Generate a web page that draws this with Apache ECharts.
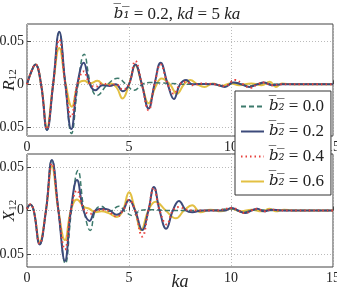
<!DOCTYPE html>
<html>
<head>
<meta charset="utf-8">
<script src="https://cdn.jsdelivr.net/npm/echarts@6/dist/echarts.min.js"></script>
<style>
  html, body { margin: 0; padding: 0; background: #fff; }
  #chart { width: 337px; height: 290px; }
</style>
</head>
<body>
<div id="chart"></div>
<script>
// series names (b2 values) and tick values
const b2Values = ['0.0', '0.2', '0.4', '0.6'];
const xTicks = [0, 5, 10, 15];
const yTicks = [-0.05, 0, 0.05];

// R12 curves, [ka, value]
const r12_b00 = [[0,0],[0.2,0.014],[0.41,0.023],[0.69,0],[0.98,-0.053],[1.28,0],[1.58,0.06],[1.88,0],[2.18,-0.057],[2.5,0],[2.8,0.035],[3.12,0],[3.43,-0.013],[3.95,0],[4.45,0.007],[4.85,0],[5.25,-0.007],[5.65,0],[6.0,0.002],[7.0,0.001],[8,0],[9.2,0],[9.7,-0.002],[10.2,0.002],[10.9,-0.002],[11.5,0.001],[12.5,0],[15,0]];
const r12_b02 = [[0,0],[0.2,0.014],[0.41,0.023],[0.69,0],[0.98,-0.053],[1.28,0],[1.58,0.061],[1.88,0],[2.17,-0.052],[2.47,0],[2.78,0.025],[3.08,0],[3.35,-0.007],[3.7,-0.001],[4.05,-0.002],[4.35,0],[4.7,-0.008],[5.0,0],[5.31,0.023],[5.63,0],[5.96,-0.028],[6.25,0],[6.55,0.025],[6.9,0],[7.2,-0.017],[7.5,0],[7.8,0.005],[8.1,0],[8.6,0.0005],[9.2,0],[9.7,-0.003],[10.1,0.002],[10.5,0],[10.9,-0.003],[11.3,0],[11.6,0.002],[12.0,-0.001],[12.5,0],[15,0]];
const r12_b04 = [[0,0],[0.2,0.014],[0.41,0.023],[0.69,0],[0.98,-0.052],[1.28,0],[1.58,0.052],[1.88,0],[2.17,-0.038],[2.47,0],[2.78,0.015],[3.05,0.002],[3.35,-0.003],[3.7,0.001],[4.05,-0.001],[4.35,0],[4.7,-0.006],[5.0,0],[5.31,0.027],[5.63,0],[5.96,-0.030],[6.25,0],[6.55,0.023],[6.9,0],[7.2,-0.011],[7.5,0],[7.8,0.003],[8.1,-0.001],[8.6,0.001],[9.2,0],[9.7,-0.002],[10.2,0.005],[10.6,0],[10.95,-0.004],[11.3,0],[11.6,0.002],[12,-0.001],[12.5,0],[15,0]];
const r12_b06 = [[0,0],[0.2,0.014],[0.41,0.023],[0.69,0],[0.98,-0.050],[1.28,0],[1.58,0.042],[1.9,0],[2.2,-0.026],[2.5,0],[2.8,0.004],[3.1,0.001],[3.45,0.004],[3.8,-0.001],[4.1,0.001],[4.4,-0.004],[4.68,-0.0165],[5.0,0],[5.31,0.022],[5.63,0],[5.96,-0.022],[6.3,-0.003],[6.6,0.0066],[7.0,0],[7.35,-0.011],[7.7,0],[8.0,0.005],[8.35,0],[8.7,-0.003],[9.1,0.001],[9.5,-0.002],[10.0,0.001],[10.4,-0.001],[11.0,0.001],[11.5,-0.001],[11.9,0.003],[12.2,-0.003],[12.5,0.001],[13,0],[15,0]];

// X12 curves, [ka, value]
const x12_b00 = [[0,0.002],[0.16,0.007],[0.33,0],[0.62,-0.039],[0.93,0],[1.22,0.058],[1.54,0],[1.88,-0.061],[2.18,0],[2.5,0.046],[2.8,0],[3.1,-0.023],[3.35,0],[3.62,0.005],[4.05,-0.001],[4.5,0.005],[4.85,-0.002],[5.2,-0.006],[5.55,0],[6,0.001],[7,0],[8,0],[9,0],[10,0.002],[10.6,-0.002],[11.2,0.001],[12,0],[15,0]];
const x12_b02 = [[0,0.002],[0.16,0.007],[0.33,0],[0.62,-0.039],[0.93,0],[1.22,0.058],[1.54,0],[1.86,-0.058],[2.15,0],[2.45,0.035],[2.77,0],[3.07,-0.012],[3.35,0],[3.7,0.002],[4.0,0.001],[4.4,-0.005],[4.7,0],[5.0,0.012],[5.3,0],[5.65,-0.0225],[5.95,0],[6.22,0.027],[6.5,0],[6.82,-0.021],[7.15,0],[7.45,0.011],[7.8,0],[8.1,-0.002],[8.6,0],[9.2,0],[9.7,0],[10.0,0.003],[10.35,0],[10.7,-0.003],[11.0,0],[11.3,0.002],[11.6,-0.001],[12,0.001],[12.5,0],[15,0]];
const x12_b04 = [[0,0.002],[0.16,0.007],[0.33,0],[0.62,-0.038],[0.93,0],[1.22,0.054],[1.54,0],[1.86,-0.045],[2.15,0],[2.45,0.023],[2.77,0.002],[3.07,-0.004],[3.4,0],[3.8,0.001],[4.4,-0.007],[4.7,0],[5.0,0.012],[5.3,0],[5.65,-0.03],[5.95,0],[6.22,0.026],[6.5,0],[6.85,-0.016],[7.15,0],[7.45,0.004],[7.8,0.001],[8.3,0],[9.2,0],[10.1,0.003],[10.35,0],[10.7,-0.003],[11.0,0],[11.3,0.002],[11.6,-0.001],[12,0.001],[12.5,0],[15,0]];
const x12_b06 = [[0,0.002],[0.16,0.007],[0.33,0],[0.62,-0.036],[0.93,0],[1.22,0.051],[1.54,0],[1.86,-0.034],[2.15,0],[2.45,0.0126],[2.8,0.004],[3.05,0.002],[3.35,-0.002],[3.65,-0.001],[4.0,-0.003],[4.4,-0.0075],[4.7,0],[5.0,0.021],[5.3,0],[5.6,-0.0225],[5.95,0],[6.3,0.01],[6.8,0],[7.3,-0.009],[7.7,0],[8.1,0.006],[8.5,-0.002],[9.0,0.001],[9.5,-0.001],[10.0,0.002],[10.5,-0.001],[11.0,0.001],[11.5,-0.001],[11.9,0.002],[12.2,-0.001],[12.6,0.001],[13,0],[15,0]];

const SERIF = "'Liberation Serif', 'DejaVu Serif', serif";
const styles = [
  { color: '#3d7a6c', type: [5, 3], width: 1.5 },
  { color: '#3c4a7a', type: 'solid', width: 2 },
  { color: '#e8413c', type: [1.5, 3], width: 2 },
  { color: '#e3c043', type: 'solid', width: 2 }
];
const r12 = [r12_b00, r12_b02, r12_b04, r12_b06];
const x12 = [x12_b00, x12_b02, x12_b04, x12_b06];

const chart = echarts.init(document.getElementById('chart'));

const axisX = (gridIndex, showName) => ({
  type: 'value', gridIndex, min: 0, max: 15, interval: 5,
  axisLine: { show: false },
  axisTick: { inside: true, length: 4, lineStyle: { color: '#444' } },
  axisLabel: { fontFamily: SERIF, fontSize: 14, color: '#222', margin: 4, showMaxLabel: true, hideOverlap: false },
  splitLine: { show: true, lineStyle: { color: '#bbb', type: [1, 2] } },
  name: showName ? 'ka' : '',
  nameLocation: 'middle', nameGap: 6, nameMoveOverlap: false,
  nameTextStyle: { fontFamily: SERIF, fontStyle: 'italic', fontSize: 18, color: '#222' }
});

const axisY = (gridIndex, min, max, sym) => ({
  type: 'value', gridIndex, min, max,
  axisLine: { show: false },
  axisTick: { inside: true, length: 4, customValues: yTicks, lineStyle: { color: '#444' } },
  axisLabel: {
    fontFamily: SERIF, fontSize: 14, color: '#222', margin: 3, customValues: yTicks,
    formatter: v => (v < 0 ? '\u2212' : '') + Math.abs(v).toString()
  },
  splitLine: { show: true, lineStyle: { color: '#bbb', type: [1, 2] } },
  name: '{i|' + sym + '}{s|12}',
  nameLocation: 'middle', nameGap: 17, nameRotate: 90, nameMoveOverlap: false,
  nameTextStyle: {
    align: 'center', verticalAlign: 'middle',
    rich: {
      i: { fontFamily: SERIF, fontStyle: 'italic', fontSize: 17, color: '#222' },
      s: { fontFamily: SERIF, fontSize: 11, color: '#222', verticalAlign: 'bottom', padding: [6, 0, 0, 0] }
    }
  }
});

const series = [];
[r12, x12].forEach((group, gi) => {
  group.forEach((data, si) => {
    series.push({
      name: b2Values[si],
      type: 'line',
      xAxisIndex: gi, yAxisIndex: gi,
      data: data,
      smooth: 0.45,
      symbol: 'none',
      lineStyle: styles[si],
      itemStyle: { color: styles[si].color },
      z: si === 3 ? 2 : 3 + si
    });
  });
});

const gridBase = { left: 27, right: 4, show: true, borderColor: '#444', borderWidth: 1, backgroundColor: 'transparent', containLabel: false, outerBoundsMode: 'none' };

chart.setOption({
  animation: false,
  title: {
    text: '{o|b\u0305\u2081\u0305}{t| = 0.2, }{i|kd}{t| = 5 }{i|ka}',
    left: 172, top: 1, textAlign: 'center',
    textStyle: {
      fontWeight: 'normal',
      rich: {
        o: { fontFamily: "'DejaVu Serif', serif", fontStyle: 'italic', fontSize: 15, color: '#222' },
        t: { fontFamily: SERIF, fontSize: 17, color: '#222' },
        i: { fontFamily: SERIF, fontStyle: 'italic', fontSize: 17, color: '#222' }
      }
    }
  },
  grid: [
    Object.assign({ top: 24, height: 112 }, gridBase),
    Object.assign({ top: 154, height: 113 }, gridBase)
  ],
  xAxis: [axisX(0, false), axisX(1, true)],
  yAxis: [axisY(0, -0.06, 0.07, 'R'), axisY(1, -0.065, 0.065, 'X')],
  legend: {
    data: b2Values,
    orient: 'vertical', left: 235, top: 91,
    itemWidth: 23, itemHeight: 10, itemGap: 8, itemTextGap: 4,
    padding: [7, 7, 5, 5],
    itemStyle: { opacity: 0 },
    backgroundColor: '#fff', borderColor: '#333', borderWidth: 1,
    formatter: name => '{o|b\u0305\u2082\u0305}{t| = ' + name + '}',
    textStyle: {
      rich: {
        o: { fontFamily: "'DejaVu Serif', serif", fontStyle: 'italic', fontSize: 15, color: '#222', lineHeight: 18 },
        t: { fontFamily: SERIF, fontSize: 17, color: '#222', lineHeight: 18 }
      }
    }
  },
  series: series
});
</script>
</body>
</html>
